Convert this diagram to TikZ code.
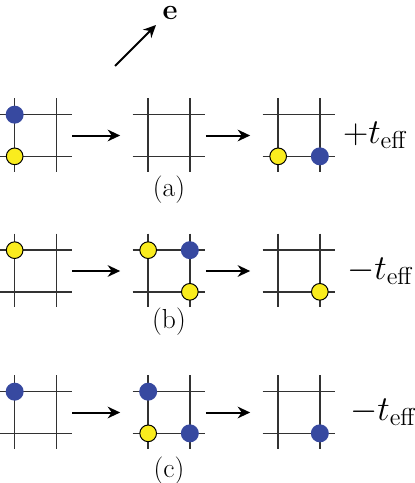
\documentclass[tikz,border=0pt]{standalone}
\usepackage{fix-cm}
\usepackage{amsmath, amssymb}
\usepackage{xcolor}
\usepackage{tikz}
\usetikzlibrary{positioning, arrows.meta}
\definecolor{holecolor}{RGB}{250,236,30}
\definecolor{spincolor}{RGB}{55,73,160}
\definecolor{gridcolor}{RGB}{50,50,50}

\begin{document}
\begin{tikzpicture}[
    x=0.6pt, y=-0.6pt,
    plaq/.style={minimum width=24.6pt, minimum height=24.6pt, inner sep=0pt},
    grid/.style={draw=gridcolor, line width=0.95pt},
    hole/.style={circle, draw=black, fill=holecolor, line width=0.6pt,
                 minimum size=10pt, inner sep=0pt},
    spin/.style={circle, fill=spincolor, minimum size=10.8pt, inner sep=0pt},
    arr/.style={-{Stealth[length=7.5pt, width=7pt]}, line width=1.2pt,
                shorten <=9.6pt, shorten >=16.8pt},
    teff/.style={inner sep=0pt, font=\fontsize{21}{25}\selectfont},
    tag/.style={inner sep=0pt, font=\fontsize{16.5}{19}\selectfont}
]
\useasboundingbox (0,0) rectangle (415,483);

% ---- field direction ----
\coordinate (etail) at (115,66);
\coordinate (ehead) at (156,25);
\node[inner sep=0pt, font=\fontsize{17.5}{20}\selectfont] (e) at (170,13) {$\mathbf{e}$};
\draw[-{Stealth[length=7.5pt, width=7pt]}, line width=1.2pt] (etail) -- (ehead);

% ---- plaquettes ----
\node[plaq] (ga1) at (35.5,135.5) {};
\node[plaq] (ga2) at (169,135.5)  {};
\node[plaq] (ga3) at (299,135.5)  {};
\node[plaq] (gb1) at (35.5,271)   {};
\node[plaq] (gb2) at (169,271)    {};
\node[plaq] (gb3) at (299,271)    {};
\node[plaq] (gc1) at (35.5,412.5) {};
\node[plaq] (gc2) at (169,412.5)  {};
\node[plaq] (gc3) at (299,412.5)  {};

\foreach \g in {ga1,ga2,ga3,gb1,gb2,gb3,gc1,gc2,gc3} {
  \draw[grid] ([xshift=-9.3pt]\g.north west) -- ([xshift=9.3pt]\g.north east);
  \draw[grid] ([xshift=-9.3pt]\g.south west) -- ([xshift=9.3pt]\g.south east);
  \draw[grid] ([yshift=10pt]\g.north west) -- ([yshift=-9.3pt]\g.south west);
  \draw[grid] ([yshift=10pt]\g.north east) -- ([yshift=-9.3pt]\g.south east);
}

% ---- Row (a) ----
\node[spin] (a1s) at (ga1.north west) {};
\node[hole] (a1h) at (ga1.south west) {};
\node[hole] (a3h) at (ga3.south west) {};
\node[spin] (a3s) at (ga3.south east) {};
\draw[arr] (ga1) -- (ga2);
\draw[arr] (ga2) -- (ga3);
\node[teff, right=13.8pt of ga3] (ta) {$+t_{\text{eff}}$};
\node[tag, below=11.4pt of ga2]  (la) {(a)};

% ---- Row (b) ----
\node[hole] (b1h)  at (gb1.north west) {};
\node[hole] (b2h1) at (gb2.north west) {};
\node[spin] (b2s)  at (gb2.north east) {};
\node[hole] (b2h2) at (gb2.south east) {};
\node[hole] (b3h)  at (gb3.south east) {};
\draw[arr] (gb1) -- (gb2);
\draw[arr] (gb2) -- (gb3);
\node[teff, right=16.2pt of gb3] (tb) {$-t_{\text{eff}}$};
\node[tag, below=9.6pt of gb2]   (lb) {(b)};

% ---- Row (c) ----
\node[spin] (c1s)  at (gc1.north west) {};
\node[spin] (c2s1) at (gc2.north west) {};
\node[hole] (c2h)  at (gc2.south west) {};
\node[spin] (c2s2) at (gc2.south east) {};
\node[spin] (c3s)  at (gc3.south east) {};
\draw[arr] (gc1) -- (gc2);
\draw[arr] (gc2) -- (gc3);
\node[teff, right=18pt of gc3] (tc) {$-t_{\text{eff}}$};
\node[tag, below=14pt of gc2]    (lc) {(c)};

\end{tikzpicture}
\end{document}
